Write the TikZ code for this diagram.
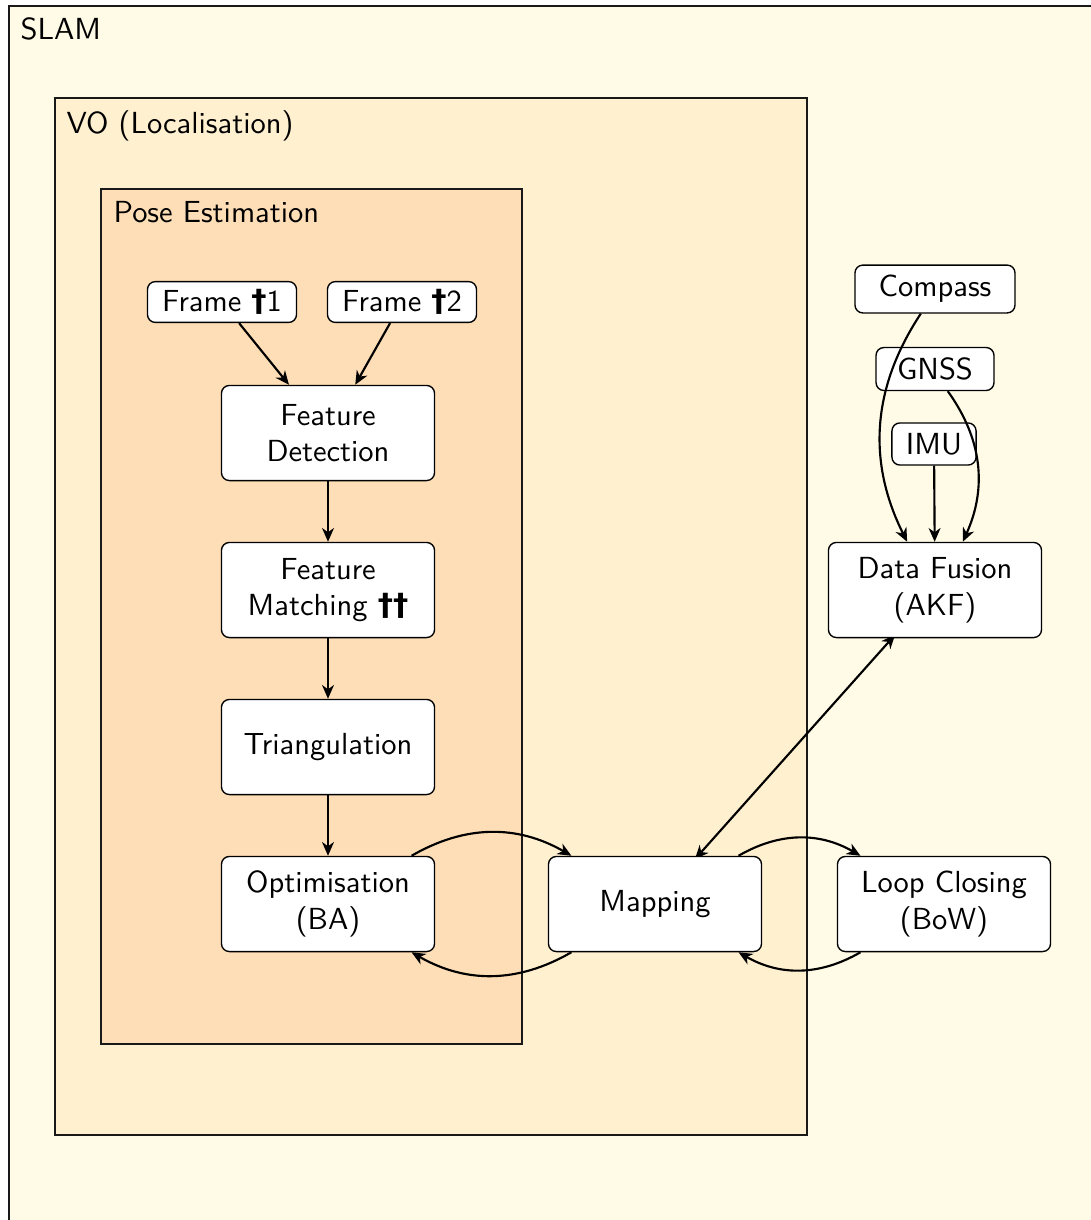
\documentclass[tikz,border=0pt]{standalone}
\usepackage{fontspec}
\newfontfamily\dagfont{DejaVu Sans}
\usetikzlibrary{arrows.meta}
\pgfdeclarelayer{back}
\pgfdeclarelayer{links}
\pgfsetlayers{back,links,main}
\definecolor{slamfill}{RGB}{255,251,230}
\definecolor{vofill}{RGB}{255,240,208}
\definecolor{posefill}{RGB}{254,222,182}
\newcommand{\dg}{{\dagfont\bfseries\symbol{"2020}}}
\begin{document}
\begin{tikzpicture}[x=0.328pt,y=-0.328pt,font=\sffamily,
  box/.style={draw=black,rounded corners=2.6pt,fill=white,align=center,inner sep=0pt,line width=0.45pt},
  big/.style={box,minimum width=69.9pt,minimum height=31.2pt},
  link/.style={-{Stealth[length=4.5pt,width=3.9pt,inset=1.4pt]},line width=0.7pt},
  group/.style={draw=black!90,line width=0.35pt},
  grouplabel/.style={anchor=base west,inner sep=0pt}]
\clip (0,0) rectangle (1090,1220);
\useasboundingbox (0,0) rectangle (1090,1220);

% nested groups
\begin{pgfonlayer}{back}
  \draw[group,fill=slamfill] (9,6) rectangle (1110,1240);
  \node[grouplabel] (slamlbl) at (20,39) {SLAM};
  \draw[group,fill=vofill] (55,98) rectangle (807,1135);
  \node[grouplabel] (volbl) at (66,133) {VO (Localisation)};
  \draw[group,fill=posefill] (101,189) rectangle (522,1044);
  \node[grouplabel] (poselbl) at (113,222) {Pose Estimation};
\end{pgfonlayer}

% pose estimation pipeline
\node[box,minimum width=48.9pt,minimum height=13.4pt] (f1) at (222,302) {Frame \dg1};
\node[box,minimum width=48.9pt,minimum height=13.4pt] (f2) at (402,302) {Frame \dg2};
\node[big] (fd)  at (328,433) {Feature\\Detection};
\node[big] (fm)  at (328,590) {Feature\\Matching \dg\dg};
\node[big] (tri) at (328,747) {Triangulation};
\node[big] (opt) at (328,904) {Optimisation\\(BA)};

% mapping, loop closing and sensor fusion
\node[big] (map)  at (655,904) {Mapping};
\node[big] (loop) at (944,904) {Loop Closing\\(BoW)};
\node[big] (fus)  at (935,590) {Data Fusion\\(AKF)};
\node[box,minimum width=52.5pt,minimum height=15.7pt] (compass) at (935,289) {Compass};
\node[box,minimum width=38.7pt,minimum height=14.1pt] (gnss) at (935,369) {GNSS};
\node[box,minimum width=27.6pt,minimum height=13.8pt] (imu) at (934,444) {IMU};

% connectors
\draw[link] (f1) -- (fd);
\draw[link] (f2) -- (fd);
\draw[link] (fd) -- (fm);
\draw[link] (fm) -- (tri);
\draw[link] (tri) -- (opt);
\draw[link] (opt) to[bend left] (map);
\draw[link] (map) to[bend left] (opt);
\draw[link] (map) to[bend left] (loop);
\draw[link] (loop) to[bend left] (map);
\draw[link] (compass) to[bend right] (fus);
\draw[link] (gnss) to[bend left] (fus);
\draw[link] (imu) -- (fus);
\begin{pgfonlayer}{links}
  \draw[link,{Stealth[length=4.5pt,width=3.9pt,inset=1.4pt]}-{Stealth[length=4.5pt,width=3.9pt,inset=1.4pt]},
        shorten <=-1.5pt,shorten >=-1.5pt] (map) -- (fus);
\end{pgfonlayer}
\end{tikzpicture}
\end{document}
